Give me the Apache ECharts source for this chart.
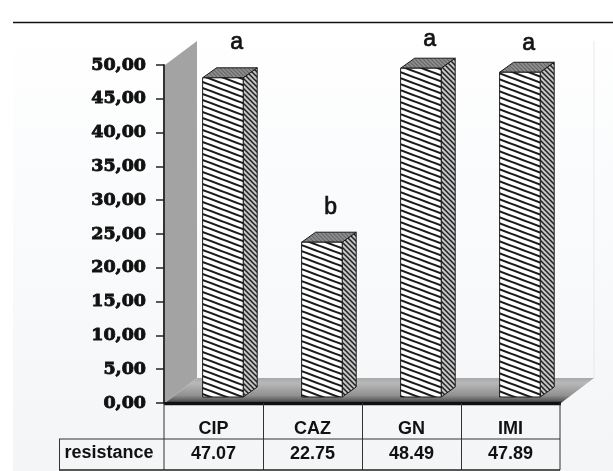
<!DOCTYPE html>
<html><head><meta charset="utf-8">
<style>html,body{margin:0;padding:0;background:#fff}#c{width:613px;height:471px}</style>
<script src="https://cdn.jsdelivr.net/npm/echarts@6/dist/echarts.min.js"></script>
</head><body><div id="c"></div>
<script>
const categories = ['CIP','CAZ','GN','IMI'];
const resistance = [47.07,22.75,48.49,47.89];
const resistanceText = ['47.07','22.75','48.49','47.89'];
const letters = ['a','b','a','a'];
const seriesName = 'resistance';

function tile(w,h,bg,fg,lw){
  const c=document.createElement('canvas');c.width=w;c.height=h;
  const x=c.getContext('2d');x.fillStyle=bg;x.fillRect(0,0,w,h);
  x.strokeStyle=fg;x.lineWidth=lw;
  for(let k=-2;k<=2;k++){x.beginPath();x.moveTo(-w,-h+k*h);x.lineTo(2*w,2*h+k*h);x.stroke();}
  return {image:c,repeat:'repeat'};
}
const frontFill=tile(16,6,'#ffffff','#1a1a1a',2.1);
const sideFill=tile(5,5,'#c4c4c4','#1f1f1f',1.5);
const topFill=tile(4,4,'#8e8e8e','#666666',1.2);

const LEFT=164,RIGHT=560,AXIS_Y=403,TOP=65;
const chart=echarts.init(document.getElementById('c'),null,{renderer:'canvas'});
const line=(x1,y1,x2,y2,w,col)=>({type:'line',z:1,shape:{x1,y1,x2,y2},style:{stroke:col||'#222',lineWidth:w||1}});
const TABLE_FONT='bold 18px "Liberation Sans"';

chart.setOption({
  animation:false,
  backgroundColor:'#ffffff',
  grid:{left:LEFT,top:TOP,width:RIGHT-LEFT,height:AXIS_Y-TOP},
  xAxis:{type:'category',data:categories,
    axisLine:{lineStyle:{color:'#111',width:2}},
    axisTick:{show:false},
    axisLabel:{margin:17,fontFamily:'Liberation Sans',fontWeight:'bold',fontSize:18,color:'#111'}},
  yAxis:{type:'value',min:0,max:50,interval:5,
    splitLine:{show:false},
    axisLine:{show:true,lineStyle:{color:'#333',width:2}},
    axisTick:{show:true,length:8,lineStyle:{color:'#222',width:1.5}},
    axisLabel:{margin:18,fontFamily:'DejaVu Serif',fontWeight:'bold',fontSize:17.5,color:'#111',
      textBorderColor:'#111',textBorderWidth:0.9,
      formatter:v=>v.toFixed(2).replace('.',',')}},
  graphic:[
    {type:'rect',z:-10,shape:{x:13,y:23,width:600,height:448},
      style:{fill:new echarts.graphic.LinearGradient(0,0,0,1,[{offset:0,color:'#ffffff'},{offset:0.3,color:'#fbfcfd'},{offset:1,color:'#f3f5f7'}])}},
    line(13,22.5,613,22.5,1.5,'#111'),
    line(594,41,594,378,1,'#e8e8e8'),
    {type:'polygon',z:0,shape:{points:[[165,65],[197,41],[197,378],[165,403]]},style:{fill:'#a3a3a3'}},
    {type:'polygon',z:0,shape:{points:[[165,403],[197,378],[594,378],[561,403]]},
      style:{fill:new echarts.graphic.LinearGradient(0,0,0,1,[{offset:0,color:'#a8a8a8'},{offset:0.2,color:'#b8b8b8'},{offset:0.7,color:'#909090'},{offset:0.9,color:'#5c5c5c'},{offset:1,color:'#2a2a2a'}])}},
    line(164,404,561,404,2.5,'#111'),
    line(164,403,164,439,1,'#333'),line(263.5,403,263.5,470,1,'#333'),line(362.5,403,362.5,470,1,'#333'),
    line(461.5,403,461.5,470,1,'#333'),line(560,403,560,470,1,'#333'),line(164,439,164,470,1,'#333'),
    line(59.5,439,59.5,470,1,'#333'),line(59,439,560,439,1,'#333'),line(59,470,560,470,1.5,'#222'),
    {type:'text',z:3,style:{x:109,y:453,text:seriesName,align:'center',verticalAlign:'middle',
      font:TABLE_FONT,fill:'#111'}}
  ],
  series:[{
    type:'custom',coordinateSystem:'cartesian2d',clip:false,
    data:resistance.map((v,i)=>[i,v]),
    renderItem:(p,api)=>{
      const i=api.value(0),v=api.value(1);
      const base=api.coord([i,0]),tp=api.coord([i,v]);
      const catW=api.size([1,0])[0];
      const x0=base[0]-0.11*catW, w=0.41*catW, y0=base[1]-6, y1=tp[1]-7, dx=14, dy=10;
      const st={stroke:'#1a1a1a',lineWidth:1};
      const shiftX=i===0?34:29, shiftY=i===0?-35:(i===1?-35:-29);
      return {type:'group',children:[
        {type:'polygon',shape:{points:[[x0+w,y0],[x0+w+dx,y0-dy],[x0+w+dx,y1-dy],[x0+w,y1]]},style:Object.assign({fill:sideFill},st)},
        {type:'polygon',shape:{points:[[x0,y1],[x0+dx,y1-dy],[x0+w+dx,y1-dy],[x0+w,y1]]},style:Object.assign({fill:topFill},st)},
        {type:'rect',shape:{x:x0,y:y1,width:w,height:y0-y1},style:Object.assign({fill:frontFill},st)},
        {type:'text',style:{x:x0+shiftX,y:y1+shiftY,text:letters[i],align:'center',verticalAlign:'middle',
          font:'23px "Liberation Sans"',fill:'#111',stroke:'#111',lineWidth:0.7}},
        {type:'text',style:{x:base[0],y:base[1]+51,text:resistanceText[i],align:'center',verticalAlign:'middle',
          font:TABLE_FONT,fill:'#111'}}
      ]};
    }
  }]
});
</script></body></html>
